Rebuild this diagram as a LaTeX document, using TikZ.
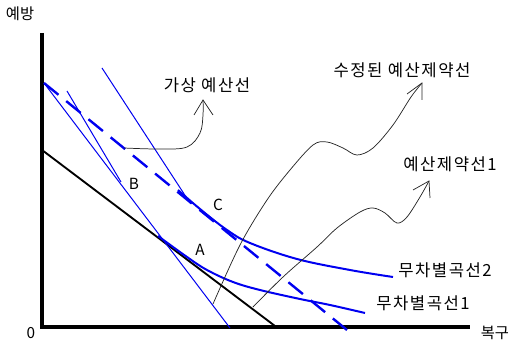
\documentclass[tikz,border=0pt]{standalone}
\usepackage{fontspec}
\setmainfont{Noto Sans CJK KR}
\newfontfamily\kfont[LetterSpace=9]{Noto Sans CJK KR}
\definecolor{pureblue}{RGB}{0,0,240}
\begin{document}
\begin{tikzpicture}[x=0.75pt,y=-0.75pt,
  axisline/.style={line width=3pt},
  budget/.style={line width=1.4pt},
  thinblue/.style={pureblue,line width=0.75pt},
  dashblue/.style={pureblue,line width=1.8pt,dash pattern=on 14pt off 7.5pt},
  icurve/.style={pureblue,line width=1.5pt},
  note/.style={black!85,line width=0.55pt},
  lbl/.style={inner sep=0pt,font=\kfont\fontsize{12.5pt}{13pt}\selectfont},
  axlbl/.style={inner sep=0pt,font=\fontsize{11.5pt}{12pt}\selectfont},
  pt/.style={inner sep=0pt,font=\fontsize{11.5pt}{12pt}\selectfont}]
\useasboundingbox (0,0) rectangle (512,346);
% axes
\coordinate (top) at (42,33);
\coordinate (origin) at (42,327);
\coordinate (xend) at (470,327);
\draw[axisline] (top) -- (origin) -- (xend);
\node[axlbl] (ylab) at (20,14) {예방};
\node[pt] (zero) at (31,333) {0};
\node[axlbl] (xlab) at (495,333) {복구};
% budget line (black)
\coordinate (b1) at (42,150);
\coordinate (b2) at (275,326);
\draw[budget] (b1) -- (b2);
% dashed revised budget line
\coordinate (d1) at (44,83);
\coordinate (d2) at (347,330);
\draw[dashblue] (d1) -- (d2);
% thin blue lines
\coordinate (t1a) at (44,83);
\coordinate (t1b) at (230,328);
\draw[thinblue] (t1a) -- (t1b);
\coordinate (t2a) at (67,91);
\coordinate (t2b) at (121,182);
\draw[thinblue] (t2a) -- (t2b);
\coordinate (t3a) at (102,68);
\coordinate (t3b) at (190,203);
\draw[thinblue] (t3a) -- (t3b);
% indifference curves
\draw[icurve] plot[smooth,tension=0.6] coordinates {(178,190) (200,209) (227,230) (250,243) (297,259) (350,270) (393,277)};
\draw[icurve] plot[smooth,tension=0.6] coordinates {(158,236) (187,257) (207,270) (233,282) (260,290) (300,299) (330,305) (365,313)};
% point labels
\node[pt] (A) at (200,250) {A};
\node[pt] (B) at (134,184) {B};
\node[pt] (C) at (218,205) {C};
% curve labels
\node[lbl] (ic2) at (445,270) {무차별곡선2};
\node[lbl] (ic1) at (423,303) {무차별곡선1};
\node[lbl] (virt) at (207,85) {가상 예산선};
\node[lbl] (rev) at (402,70) {수정된 예산제약선};
\node[lbl] (bc1) at (450,164) {예산제약선1};
% annotation arrows
\coordinate (n1s) at (124,148);
\coordinate (n1t) at (203,100);
\draw[note] plot[smooth,tension=0.6] coordinates {(n1s) (160,149) (187,147) (200,133) (203,115) (n1t)};
\draw[note] (194,115) -- (n1t) -- (213,115);
\coordinate (n2s) at (213,304);
\coordinate (n2t) at (422,83);
\draw[note] plot[smooth,tension=0.55] coordinates {(n2s) (240,245) (267,200) (290,170) (313,145) (327,142) (343,148) (357,155) (373,148) (393,125) (411,97) (n2t)};
\draw[note] (407,94) -- (n2t) -- (422,100);
\coordinate (n3s) at (253,307);
\coordinate (n3t) at (429,181);
\draw[note] plot[smooth,tension=0.55] coordinates {(n3s) (283,277) (317,247) (337,228) (360,212) (373,208) (385,213) (397,223) (407,217) (420,197) (n3t)};
\draw[note] (413,190) -- (n3t) -- (430,198);
\end{tikzpicture}
\end{document}
